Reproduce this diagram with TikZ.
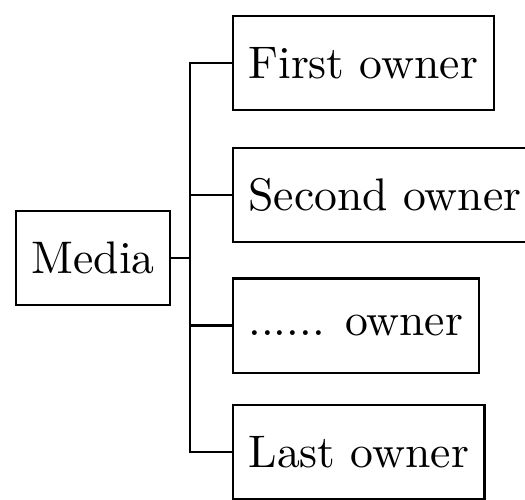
\documentclass[tikz,border=0pt]{standalone}
\begin{document}
\begin{tikzpicture}[x=0.219pt,y=-0.219pt,
  box/.style={draw,line width=0.45pt,minimum height=20.6pt,inner xsep=3.4pt},
  conn/.style={line width=0.45pt}]
\useasboundingbox (0,0) rectangle (525,499);
\node[box,anchor=west] (media) at (15,258) {Media};
\node[box,anchor=west] (first) at (232,63) {First owner};
\node[box,anchor=west] (second) at (232,195) {Second owner};
\node[box,anchor=west] (dots) at (232,325.5) {...... owner};
\node[box,anchor=west] (last) at (232,452) {Last owner};
\coordinate (j) at (190,258);
\draw[conn] (media.east) -- (j);
\draw[conn] (first.west) -| (j);
\draw[conn] (second.west) -| (j);
\draw[conn] (dots.west) -| (j);
\draw[conn] (last.west) -| (j);
\end{tikzpicture}
\end{document}
